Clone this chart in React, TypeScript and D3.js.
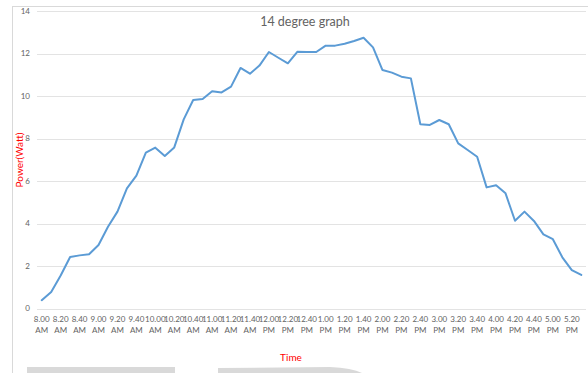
import React from "react";
import * as d3 from "d3";

// Measured power output, sampled every 10 minutes
const times: string[] = [
  "8.00 AM", "8.10 AM", "8.20 AM", "8.30 AM", "8.40 AM", "8.50 AM",
  "9.00 AM", "9.10 AM", "9.20 AM", "9.30 AM", "9.40 AM", "9.50 AM",
  "10.00 AM", "10.10 AM", "10.20 AM", "10.30 AM", "10.40 AM", "10.50 AM",
  "11.00 AM", "11.10 AM", "11.20 AM", "11.30 AM", "11.40 AM", "11.50 AM",
  "12.00 PM", "12.10 PM", "12.20 PM", "12.30 PM", "12.40 PM", "12.50 PM",
  "1.00 PM", "1.10 PM", "1.20 PM", "1.30 PM", "1.40 PM", "1.50 PM",
  "2.00 PM", "2.10 PM", "2.20 PM", "2.30 PM", "2.40 PM", "2.50 PM",
  "3.00 PM", "3.10 PM", "3.20 PM", "3.30 PM", "3.40 PM", "3.50 PM",
  "4.00 PM", "4.10 PM", "4.20 PM", "4.30 PM", "4.40 PM", "4.50 PM",
  "5.00 PM", "5.10 PM", "5.20 PM", "5.30 PM",
];

const power: number[] = [
  0.39, 0.78, 1.55, 2.42, 2.5, 2.55,
  2.99, 3.85, 4.56, 5.65, 6.25, 7.33,
  7.57, 7.18, 7.58, 8.9, 9.81, 9.86,
  10.22, 10.17, 10.44, 11.32, 11.05, 11.43,
  12.07, 11.8, 11.54, 12.08, 12.07, 12.07,
  12.37, 12.37, 12.46, 12.59, 12.74, 12.29,
  11.22, 11.1, 10.91, 10.83, 8.67, 8.64,
  8.87, 8.67, 7.77, 7.46, 7.14, 5.7,
  5.8, 5.42, 4.13, 4.56, 4.12, 3.49,
  3.26, 2.41, 1.81, 1.58,
];

const yTicks: number[] = [0, 2, 4, 6, 8, 10, 12, 14];

const W = 588;
const H = 373;
const FONT = "Lato, 'Open Sans', sans-serif";
const TEXT = "#636363";

export default function App() {
  const x = d3
    .scaleBand<string>()
    .domain(times)
    .range([37, 586])
    .padding(0);
  const y = d3.scaleLinear().domain([0, 14]).range([308.5, 11]);
  const cx = (t: string) => (x(t) ?? 0) + x.bandwidth() / 2;

  const line = d3
    .line<number>()
    .x((_, i) => cx(times[i]))
    .y((d) => y(d));

  return (
    <svg
      width={W}
      height={H}
      style={{ position: "absolute", left: 0, top: 0, background: "#fff" }}
    >
      {/* frame */}
      <line x1={12} x2={W} y1={6.5} y2={6.5} stroke="#d9d9d9" strokeWidth={1} />
      <line x1={12.5} x2={12.5} y1={6} y2={H} stroke="#d9d9d9" strokeWidth={1} />

      {/* gridlines and y labels */}
      {yTicks.map((t) => (
        <g key={t}>
          <line
            x1={37}
            x2={586}
            y1={Math.round(y(t)) + 0.5}
            y2={Math.round(y(t)) + 0.5}
            stroke="#e3e3e3"
            strokeWidth={1}
          />
          <text
            x={30}
            y={y(t)}
            dy="0.35em"
            textAnchor="end"
            fontFamily={FONT}
            fontSize={8}
            fill={TEXT}
          >
            {t}
          </text>
        </g>
      ))}

      {/* category labels, every other one */}
      {times.map((t, i) => {
        if (i % 2 !== 0) return null;
        const [clock, half] = t.split(" ");
        return (
          <text
            key={t}
            x={cx(t)}
            textAnchor="middle"
            fontFamily={FONT}
            fontSize={8}
            fill={TEXT}
          >
            <tspan x={cx(t)} y={322}>{clock}</tspan>
            <tspan x={cx(t)} y={333}>{half}</tspan>
          </text>
        );
      })}

      {/* data line */}
      <path
        d={line(power) ?? ""}
        fill="none"
        stroke="#5b9bd5"
        strokeWidth={2}
        strokeLinejoin="round"
        strokeLinecap="round"
      />

      {/* titles */}
      <text
        x={305}
        y={26}
        textAnchor="middle"
        fontFamily={FONT}
        fontSize={12.5}
        fill={TEXT}
      >
        14 degree graph
      </text>
      <text
        transform="translate(23,160) rotate(-90)"
        textAnchor="middle"
        fontFamily={FONT}
        fontSize={10}
        fill="#ff0000"
      >
        Power(Watt)
      </text>
      <text
        x={291}
        y={361}
        textAnchor="middle"
        fontFamily={FONT}
        fontSize={10}
        fill="#ff0000"
      >
        Time
      </text>

      {/* grey shapes along the bottom edge */}
      <rect x={27} y={367} width={148} height={6} fill="#d9d9d9" />
      <path d="M218,368 L330,367 Q352,368 362,373 L218,373 Z" fill="#d9d9d9" />
    </svg>
  );
}
